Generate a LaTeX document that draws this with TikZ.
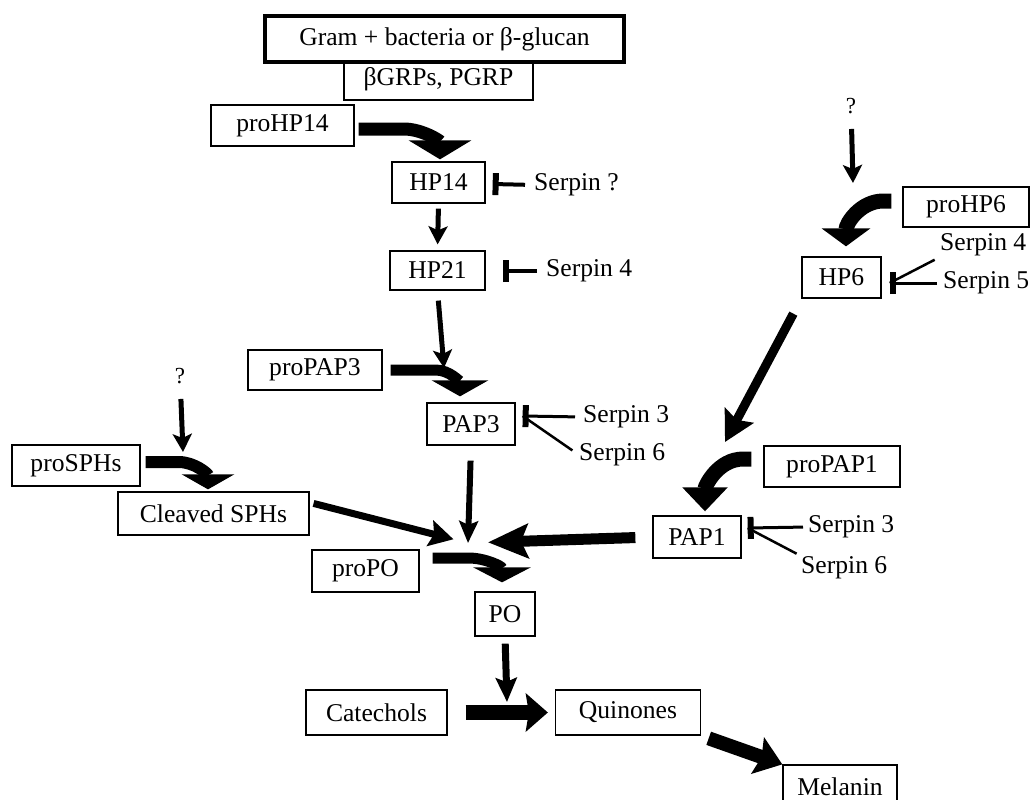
\documentclass[tikz,border=0pt]{standalone}
\usepackage{fontspec}
\setmainfont{Liberation Serif}
\usetikzlibrary{arrows.meta,calc}

\tikzset{
	box/.style={draw, line width=1.3pt, inner sep=0pt, font=\fontsize{25.6}{30}\selectfont},
	lbl/.style={inner sep=0pt, anchor=west, font=\fontsize{25.6}{30}\selectfont},
	qmark/.style={inner sep=0pt, font=\fontsize{23}{26}\selectfont},
	arr/.style={line width=5pt, -{Stealth[width=19pt,length=18pt,inset=4pt]}},
	curv/.style args={#1/#2/#3}{line width=#1, -{Triangle[width=#2,length=#3]}},
	inhib/.style={line width=3pt, -{Bar[width=22pt,line width=6pt]}},
	side/.style={line width=2.5pt}
}

\begin{document}
\begin{tikzpicture}[x=1pt,y=-1pt]
			%%%%% START %%%%%
			\useasboundingbox (0,0) rectangle (1031,800);
			
			\node[box, minimum width=189, minimum height=42] (grps) at (438.5,79) {βGRPs, PGRP};
			\node[box, line width=4pt, fill=white, minimum width=359, minimum height=46] (gram) at (444.5,39) {Gram + bacteria or β-glucan};
			
			\node[box, minimum width=143, minimum height=41] (proHP14) at (282.5,125.5) {proHP14};
			\node[box, minimum width=93, minimum height=41] (HP14) at (438.5,182.5) {HP14};
			\node[box, minimum width=95, minimum height=39] (HP21) at (437.5,270.5) {HP21};
			\node[box, minimum width=134, minimum height=40] (proPAP3) at (315,370) {proPAP3};
			\node[box, minimum width=88, minimum height=42] (PAP3) at (471,424) {PAP3};
			\node[box, minimum width=128, minimum height=41] (proSPHs) at (76,465.5) {proSPHs};
			\node[box, minimum width=191, minimum height=43] (SPHs) at (213.5,513.5) {Cleaved SPHs};
			\node[box, minimum width=107, minimum height=42] (proPO) at (365.5,571) {proPO};
			\node[box, minimum width=60, minimum height=44] (PO) at (505,614) {PO};
			\node[box, minimum width=141, minimum height=45] (cat) at (376.5,712.5) {Catechols};
			\node[box, minimum width=145, minimum height=45] (quin) at (628,712.5) {Quinones};
			\node[box, minimum width=114, minimum height=44] (mel) at (840,787) {Melanin};
			\node[box, minimum width=126, minimum height=40] (proHP6) at (966,207) {proHP6};
			\node[box, minimum width=79, minimum height=41] (HP6) at (841.5,277.5) {HP6};
			\node[box, minimum width=136, minimum height=41] (proPAP1) at (832,466.5) {proPAP1};
			\node[box, minimum width=88, minimum height=42] (PAP1) at (697,537) {PAP1};
			
			% serpins
			\node[lbl] (sHP14) at (534,185) {Serpin ?};
			\node[lbl] (sHP21) at (546,271) {Serpin 4};
			\node[lbl] (s3PAP3) at (583,417) {Serpin 3};
			\node[lbl] (s6PAP3) at (579,455) {Serpin 6};
			\node[lbl] (s4HP6) at (940,245) {Serpin 4};
			\node[lbl] (s5HP6) at (943,283) {Serpin 5};
			\node[lbl] (s3PAP1) at (808,527) {Serpin 3};
			\node[lbl] (s6PAP1) at (801,568) {Serpin 6};
			
			\node[qmark] (q1) at (180,376) {?};
			\node[qmark] (q2) at (851,106) {?};
			
			\coordinate (c1) at (183,452);
			\coordinate (c2) at (853,183);
			\coordinate (c3) at (444,368);
			\coordinate (c4) at (507,702);
			\coordinate (c5) at (725,442);
			\coordinate (act) at (468,543);
			
			% activation (curved)
			\draw[curv=13pt/62pt/19pt] ($(proHP14.east)+(4,3.5)$) -- ++(45,0) to[out=0,in=90] ($(HP14.north)+(1.5,-2)$);
			\draw[curv=11pt/56pt/16pt] ($(proPAP3.east)+(8,0)$) -- ++(45,0) to[out=0,in=90] ($(PAP3.north)+(-11,-6)$);
			\draw[curv=12pt/52pt/15pt] ($(proSPHs.east)+(5,-3.5)$) -- ++(33,0) to[out=0,in=90] ($(SPHs.north)+(-5.5,-2)$);
			\draw[curv=11pt/57pt/15pt] ($(proPO.east)+(13,-13)$) -- ++(36,0) to[out=0,in=90] ($(PO.north)+(-3,-9)$);
			\draw[curv=15pt/48pt/18pt] ($(proHP6.west)+(-11,-6)$) -- ++(-8,0) to[out=180,in=90] ($(HP6.north)+(4.5,-10)$);
			\draw[curv=15pt/44pt/24pt] ($(proPAP1.west)+(-12,-7.5)$) -- ++(-8,0) to[out=180,in=90] ($(PAP1.north)+(8,-4)$);
			
			% straight arrows
			\draw[arr, shorten <=15pt] (q1) -- (c1);
			\draw[arr, shorten <=15pt] (q2) -- (c2);
			\draw[arr, shorten <=5pt, shorten >=6pt] (HP14.south) -- (HP21.north);
			\draw[arr, shorten <=10pt] (HP21.south) -- (c3);
			\draw[line width=9pt, -{Stealth[width=32pt,length=30pt,inset=5pt]}, shorten <=17pt] (HP6.south west) -- (c5);
			\draw[line width=6pt, -{Stealth[width=19pt,length=22pt,inset=4pt]}, shorten <=15pt] (PAP3.south) -- (act);
			\draw[line width=7pt, -{Stealth[width=26pt,length=24pt,inset=4pt]}, shorten <=4pt, shorten >=15pt] ($(SPHs.east)!0.5!(SPHs.north east)$) -- (act);
			\draw[line width=11pt, -{Stealth[width=34pt,length=40pt,inset=7pt]}, shorten <=17pt, shorten >=20pt] (PAP1.west) -- (act);
			\draw[line width=7pt, -{Stealth[width=21pt,length=24pt,inset=4pt]}, shorten <=7pt] (PO.south) -- (c4);
			\draw[line width=15pt, -{Stealth[width=38pt,length=22pt,inset=3pt]}, shorten <=18pt, shorten >=7pt] (cat.east) -- (quin.west);
			\draw[line width=14pt, -{Stealth[width=38pt,length=26pt,inset=4pt]}, shorten <=8pt] (quin.south east) -- (mel.north west);
			
			% inhibitors
			\draw[inhib, line width=4pt, shorten <=9pt] (sHP14.west) -- ($(HP14.east)+(7,1.5)$);
			\draw[inhib, line width=4pt, shorten <=9pt] (sHP21.west) -- ($(HP21.east)+(17,0.5)$);
			\draw[inhib, shorten <=8pt] (s3PAP3.west) -- ($(PAP3.east)+(7,-8)$);
			\draw[side, shorten <=8pt] (s6PAP3.west) -- ($(PAP3.east)+(7,-8)$);
			\draw[inhib, shorten <=6pt] (s5HP6.west) -- ($(HP6.east)+(8,5.5)$);
			\draw[side, shorten <=6pt] ($(s4HP6.west)+(0,12)$) -- ($(HP6.east)+(8,5.5)$);
			\draw[inhib, shorten <=5pt] (s3PAP1.west) -- ($(PAP1.east)+(6,-9)$);
			\draw[side, shorten <=5pt] ($(s6PAP1.west)+(0,-12)$) -- ($(PAP1.east)+(6,-9)$);
			
			%%%%% END %%%%%
\end{tikzpicture}
\end{document}
